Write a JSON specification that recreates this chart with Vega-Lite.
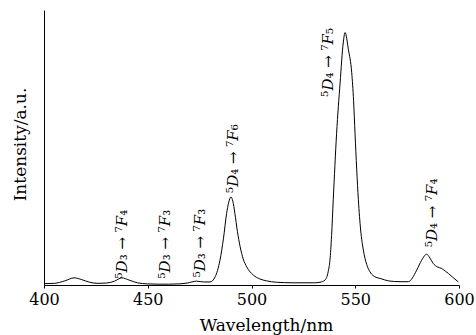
{
  "$schema": "https://vega.github.io/schema/vega-lite/v6.json",
  "width": 415,
  "height": 275,
  "autosize": "none",
  "padding": {"left": 44, "top": 10, "right": 17, "bottom": 50},
  "background": "white",
  "config": {"view": {"stroke": null}, "font": "DejaVu Serif"},
  "datasets": {
    "spectrum": [
      {"wl": 400, "I": 0.5}, {"wl": 405, "I": 0.6}, {"wl": 410, "I": 1.5}, {"wl": 414.5, "I": 2.6},
      {"wl": 418, "I": 2.0}, {"wl": 422, "I": 1.0}, {"wl": 426, "I": 0.6}, {"wl": 430, "I": 0.7},
      {"wl": 434, "I": 1.4}, {"wl": 437.5, "I": 2.6}, {"wl": 441, "I": 1.8}, {"wl": 445, "I": 0.8},
      {"wl": 450, "I": 0.4}, {"wl": 455, "I": 0.3}, {"wl": 460, "I": 0.3}, {"wl": 465, "I": 0.4},
      {"wl": 469, "I": 0.7}, {"wl": 473.5, "I": 1.4}, {"wl": 477, "I": 1.1}, {"wl": 480, "I": 1.1},
      {"wl": 482.5, "I": 3}, {"wl": 484.8, "I": 9}, {"wl": 486.5, "I": 17}, {"wl": 488, "I": 26},
      {"wl": 489, "I": 30}, {"wl": 490.1, "I": 32}, {"wl": 491, "I": 30.5}, {"wl": 492, "I": 26},
      {"wl": 493.2, "I": 19.5}, {"wl": 494.5, "I": 14}, {"wl": 496, "I": 9.5}, {"wl": 497.7, "I": 6.6},
      {"wl": 500.9, "I": 3.6}, {"wl": 504, "I": 2.2}, {"wl": 507.3, "I": 1.5}, {"wl": 512, "I": 1.0},
      {"wl": 520, "I": 0.8}, {"wl": 530, "I": 0.8}, {"wl": 533, "I": 1.0}, {"wl": 535.4, "I": 1.8},
      {"wl": 537, "I": 5}, {"wl": 537.8, "I": 9}, {"wl": 538.6, "I": 18}, {"wl": 539.4, "I": 31},
      {"wl": 541, "I": 55}, {"wl": 542.7, "I": 73.5}, {"wl": 544.2, "I": 88}, {"wl": 545.1, "I": 91.8},
      {"wl": 546.7, "I": 85.6}, {"wl": 548.3, "I": 77.2}, {"wl": 549.2, "I": 67}, {"wl": 549.9, "I": 55},
      {"wl": 551.5, "I": 31}, {"wl": 552.6, "I": 20}, {"wl": 553.9, "I": 12.7}, {"wl": 555.5, "I": 7.5},
      {"wl": 557.1, "I": 4.8}, {"wl": 560, "I": 2.8}, {"wl": 562, "I": 2.4}, {"wl": 566, "I": 1.5},
      {"wl": 571.6, "I": 1.2}, {"wl": 575.6, "I": 1.2}, {"wl": 577.5, "I": 2.5}, {"wl": 579.6, "I": 5.4},
      {"wl": 582, "I": 9}, {"wl": 584.4, "I": 11.2}, {"wl": 586, "I": 9.8}, {"wl": 587.6, "I": 7.8},
      {"wl": 589.5, "I": 6.6}, {"wl": 591.7, "I": 6.0}, {"wl": 593.5, "I": 5.0}, {"wl": 594.9, "I": 4.2},
      {"wl": 597, "I": 2.8}, {"wl": 599.7, "I": 1.1}
    ],
    "labels": [
      {"wl": 437.5, "I": 2.4, "label": "⁵𝐷₃ → ⁷𝐹₄"},
      {"wl": 458.3, "I": 2.4, "label": "⁵𝐷₃ → ⁷𝐹₃"},
      {"wl": 475.2, "I": 2.8, "label": "⁵𝐷₃ → ⁷𝐹₃"},
      {"wl": 491, "I": 33.5, "label": "⁵𝐷₄ → ⁷𝐹₆"},
      {"wl": 537, "I": 68.5, "label": "⁵𝐷₄ → ⁷𝐹₅"},
      {"wl": 587, "I": 13.8, "label": "⁵𝐷₄ → ⁷𝐹₄"}
    ]
  },
  "layer": [
    {
      "data": {"name": "spectrum"},
      "mark": {"type": "line", "color": "black", "strokeWidth": 1, "interpolate": "monotone"},
      "encoding": {
        "x": {
          "field": "wl", "type": "quantitative",
          "scale": {"domain": [400, 600], "nice": false, "zero": false},
          "axis": {
            "title": "Wavelength/nm", "values": [400, 450, 500, 550, 600],
            "grid": false, "domainColor": "black", "domainWidth": 1,
            "tickColor": "black", "tickSize": 3, "labelPadding": 3,
            "labelFont": "DejaVu Serif", "labelFontSize": 16, "labelColor": "black",
            "titleFont": "DejaVu Serif", "titleFontSize": 17, "titleFontWeight": "normal",
            "titleColor": "black", "titleX": 222, "titleY": 45, "titleBaseline": "alphabetic",
            "labelFlush": false
          }
        },
        "y": {
          "field": "I", "type": "quantitative",
          "scale": {"domain": [0, 100], "nice": false},
          "axis": {
            "title": "Intensity/a.u.", "labels": false, "ticks": false, "grid": false,
            "domainColor": "black", "domainWidth": 1,
            "titleFont": "DejaVu Serif", "titleFontSize": 17, "titleFontWeight": "normal",
            "titleColor": "black", "titlePadding": 15, "titleY": 134
          }
        }
      }
    },
    {
      "data": {"name": "labels"},
      "mark": {"type": "text", "angle": 270, "align": "left", "baseline": "middle", "font": "DejaVu Serif", "fontSize": 15, "color": "black"},
      "encoding": {
        "x": {"field": "wl", "type": "quantitative"},
        "y": {"field": "I", "type": "quantitative"},
        "text": {"field": "label"}
      }
    }
  ]
}
